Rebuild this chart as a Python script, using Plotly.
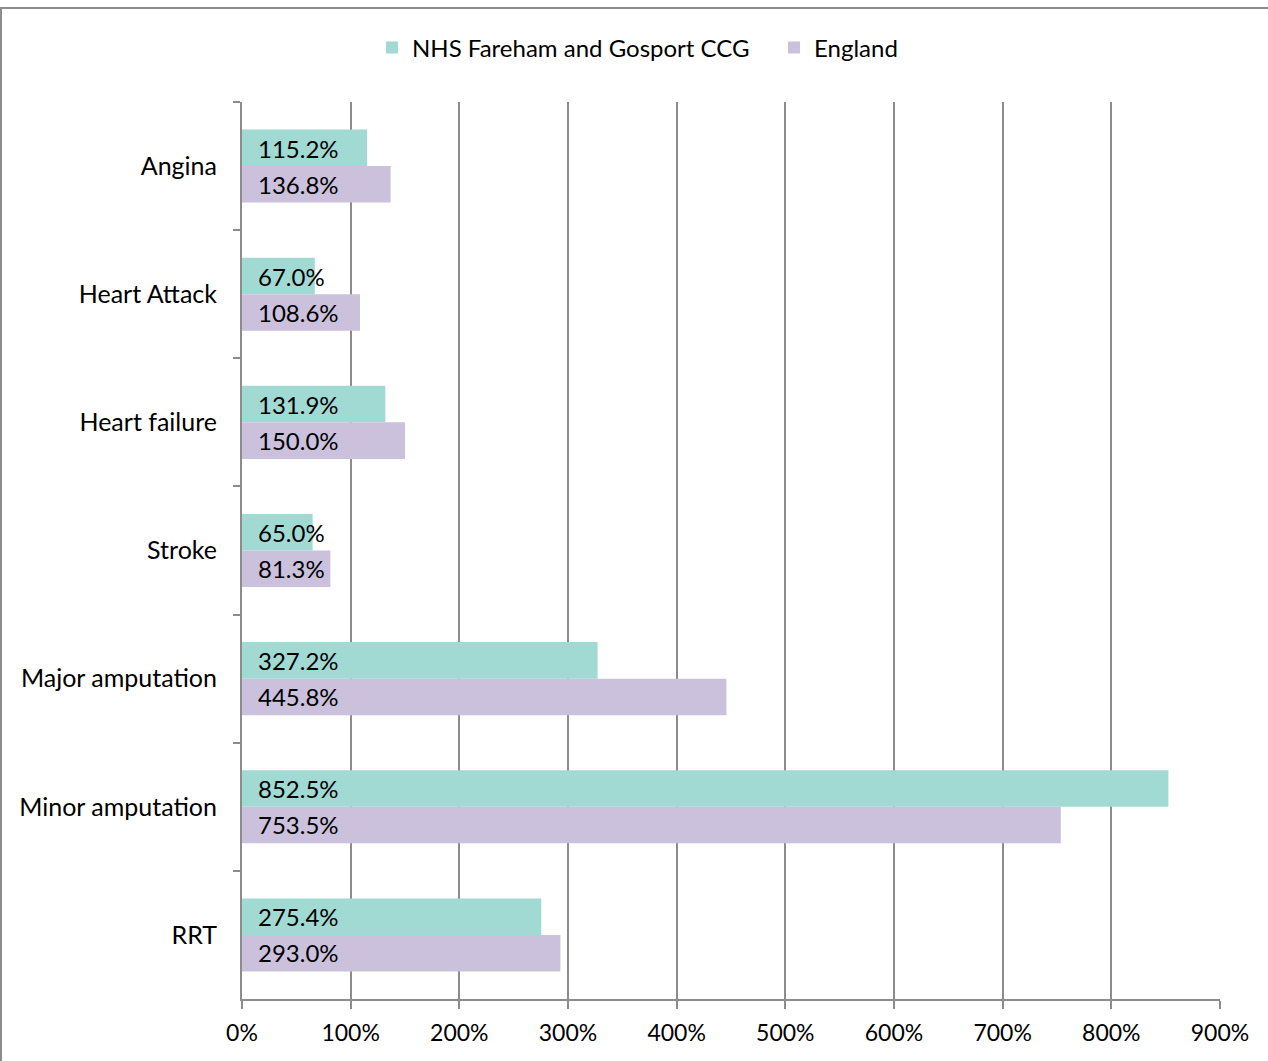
import plotly.graph_objects as go

categories = ["Angina", "Heart Attack", "Heart failure", "Stroke",
              "Major amputation", "Minor amputation", "RRT"]
ccg_values = [115.2, 67.0, 131.9, 65.0, 327.2, 852.5, 275.4]
england_values = [136.8, 108.6, 150.0, 81.3, 445.8, 753.5, 293.0]
series_names = ["NHS Fareham and Gosport CCG", "England"]
x_ticks = [0, 100, 200, 300, 400, 500, 600, 700, 800, 900]

TEAL = "#A0DAD3"
PURPLE = "#CBC1DC"
GRID = "#8C8C8C"
FONT = "Lato"

fig = go.Figure()
fig.add_trace(go.Bar(y=categories, x=ccg_values, orientation="h",
                     name=series_names[0], marker=dict(color=TEAL, line=dict(width=0))))
fig.add_trace(go.Bar(y=categories, x=england_values, orientation="h",
                     name=series_names[1], marker=dict(color=PURPLE, line=dict(width=0))))

for cat, v in zip(categories, ccg_values):
    fig.add_annotation(x=0, y=cat, text=f"{v:.1f}%", showarrow=False, xanchor="left",
                       xshift=14, yshift=18, font=dict(family=FONT, size=24, color="black"))
for cat, v in zip(categories, england_values):
    fig.add_annotation(x=0, y=cat, text=f"{v:.1f}%", showarrow=False, xanchor="left",
                       xshift=14, yshift=-18, font=dict(family=FONT, size=24, color="black"))

L, R, T, B = 242, 48, 102, 62
W, H = 1268, 1061
pw, ph = W - L - R, H - T - B
fig.add_shape(type="rect", xref="paper", yref="paper",
              x0=(1 - L) / pw, x1=(W + 20 - L) / pw,
              y0=-(H + 20 - (H - B)) / ph, y1=((H - B) - 8) / ph,
              line=dict(color=GRID, width=2), fillcolor="rgba(0,0,0,0)", layer="above")

fig.update_layout(
    width=W, height=H,
    margin=dict(l=L, r=R, t=T, b=B),
    paper_bgcolor="white", plot_bgcolor="white",
    barmode="group", bargap=0.43, bargroupgap=0,
    font=dict(family=FONT, size=24, color="black"),
    legend=dict(orientation="h", x=(372 - L) / pw, xanchor="left", y=1.0 + 54 / ph,
                yanchor="middle", font=dict(family=FONT, size=24), itemwidth=30,
                traceorder="normal", entrywidth=357),
    xaxis=dict(range=[0, 900], tickvals=x_ticks, ticktext=[f"{t}%" for t in x_ticks],
               showgrid=True, gridcolor=GRID, gridwidth=2,
               showline=True, linecolor=GRID, linewidth=2,
               ticks="outside", ticklen=8, tickcolor=GRID, tickwidth=2,
               zeroline=False, tickfont=dict(size=23), ticklabelstandoff=4),
    yaxis=dict(autorange="reversed", tickson="boundaries", ticks="outside", ticklen=7,
               tickcolor=GRID, tickwidth=2, showline=True, linecolor=GRID, linewidth=2,
               showgrid=False, tickfont=dict(size=25), ticklabelstandoff=18),
)

fig.write_html("out.html", config={"displayModeBar": False},
               post_script="document.body.style.margin='0';")
